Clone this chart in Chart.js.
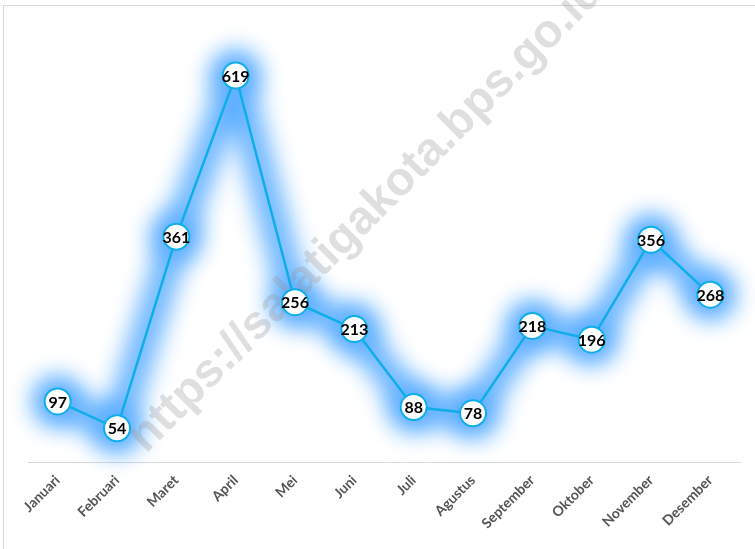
<!DOCTYPE html>
<html>
<head>
<meta charset="utf-8">
<script src="https://cdn.jsdelivr.net/npm/chart.js@4/dist/chart.umd.min.js"></script>
<style>
    html, body { margin: 0; padding: 0; background: #fff; overflow: hidden; }
    #wrap { position: relative; width: 755px; height: 549px; }
    #frame { position: absolute; left: 3px; top: 5px; width: 800px; height: 600px; border: 1px solid #d9d9d9; }
    canvas { position: absolute; left: 0; top: 0; }
</style>
</head>
<body>
<div id="wrap">
    <div id="frame"></div>
    <canvas id="chart" width="755" height="549"></canvas>
</div>
<script>
// ========================================
// Data
// ========================================
const months = ['Januari', 'Februari', 'Maret', 'April', 'Mei', 'Juni',
    'Juli', 'Agustus', 'September', 'Oktober', 'November', 'Desember'];
const values = [97, 54, 361, 619, 256, 213, 88, 78, 218, 196, 356, 268];
const watermark = 'https://salatigakota.bps.go.id';

const colors = {
    line: '#0eaeea',
    glow: '#5caeff',
    label: '#000000',
    axisText: '#555555',
    axisLine: '#d9d9d9',
    mark: 'rgba(150,150,150,0.30)'
};

// glow + watermark drawn under the line and markers
const glowPlugin = {
    id: 'glow',
    beforeDatasetsDraw(chart) {
        const ctx = chart.ctx;
        const pts = chart.getDatasetMeta(0).data;

        ctx.save();
        ctx.filter = 'blur(12px)';
        ctx.strokeStyle = colors.glow;
        ctx.fillStyle = colors.glow;
        ctx.lineWidth = 28;
        ctx.lineJoin = 'round';
        ctx.lineCap = 'round';
        ctx.beginPath();
        pts.forEach((p, i) => i ? ctx.lineTo(p.x, p.y) : ctx.moveTo(p.x, p.y));
        ctx.stroke();
        pts.forEach(p => {
            ctx.beginPath();
            ctx.arc(p.x, p.y, 25, 0, Math.PI * 2);
            ctx.fill();
        });
        ctx.restore();

        // watermark
        ctx.save();
        ctx.translate(146, 454);
        ctx.rotate(-45 * Math.PI / 180);
        ctx.font = "bold 47px 'Liberation Sans', Arial, sans-serif";
        ctx.fillStyle = colors.mark;
        ctx.textAlign = 'left';
        ctx.textBaseline = 'alphabetic';
        ctx.fillText(watermark, 0, 0);
        ctx.restore();
    },
    afterDatasetsDraw(chart) {
        const ctx = chart.ctx;
        const pts = chart.getDatasetMeta(0).data;
        ctx.save();
        ctx.font = "bold 16px Lato, sans-serif";
        ctx.fillStyle = colors.label;
        ctx.textAlign = 'center';
        ctx.textBaseline = 'middle';
        pts.forEach((p, i) => ctx.fillText(values[i], p.x, p.y + 1));
        ctx.restore();
    }
};

new Chart(document.getElementById('chart'), {
    type: 'line',
    data: {
        labels: months,
        datasets: [{
            data: values,
            borderColor: colors.line,
            borderWidth: 2.5,
            pointRadius: 13,
            pointBackgroundColor: '#ffffff',
            pointBorderColor: colors.line,
            pointBorderWidth: 2,
            tension: 0
        }]
    },
    options: {
        responsive: false,
        animation: false,
        layout: { padding: { left: 28, right: 14, top: 25, bottom: 0 } },
        plugins: {
            legend: { display: false },
            tooltip: { enabled: false }
        },
        scales: {
            x: {
                offset: true,
                grid: { display: false },
                border: { color: colors.axisLine, width: 1 },
                ticks: {
                    color: colors.axisText,
                    font: { family: 'Lato', weight: 'bold', size: 14 },
                    minRotation: 45,
                    maxRotation: 45,
                    padding: 2
                },
                afterFit: (s) => { s.height = 87; }
            },
            y: {
                display: false,
                min: 0,
                max: 700
            }
        }
    },
    plugins: [glowPlugin]
});
</script>
</body>
</html>
